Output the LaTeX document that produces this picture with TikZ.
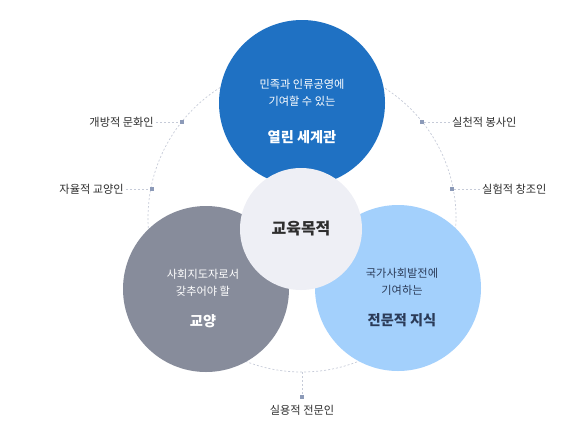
\documentclass[tikz,border=0pt]{standalone}
\usepackage{fontspec}
\setmainfont{Noto Sans CJK KR}
\usetikzlibrary{positioning}

\definecolor{topblue}{HTML}{1F71C3}
\definecolor{slate}{HTML}{878C9B}
\definecolor{skyblue}{HTML}{A3D0FC}
\definecolor{core}{HTML}{EEEFF5}
\definecolor{ringgray}{HTML}{C6CBD8}
\definecolor{markblue}{HTML}{8C9AB8}
\definecolor{ink}{HTML}{2E2E2E}
\definecolor{navyink}{HTML}{2B3B58}

\tikzset{
  area/.style={circle, minimum size=166pt, inner sep=0pt},
  lead/.style={draw=ringgray, dash pattern=on 2pt off 2pt, line width=0.7pt},
  dot/.style={fill=markblue, minimum size=4pt, inner sep=0pt},
  tag/.style={font=\fontsize{11.2}{13}\selectfont, text=ink, inner sep=2pt},
  small/.style={align=center, font=\fontsize{11.2}{17}\selectfont},
  head/.style={font=\fontsize{14.2}{16}\selectfont\bfseries}
}

\begin{document}
\begin{tikzpicture}[x=1pt,y=-1pt]
  \useasboundingbox (0,0) rectangle (580,421);
  % dashed ring
  \coordinate (ringc) at (302,218);
  \draw[lead] (ringc) circle (154pt);
  \coordinate (ringbot) at (302,372);

  % the three areas and the goal in the middle
  \node[area, fill=topblue] (world) at (302,103) {};
  \node[area, fill=slate] (culture) at (206,289) {};
  \node[area, fill=skyblue] (expert) at (398,288) {};
  \node[circle, minimum size=122pt, inner sep=0pt, fill=core] (goal) at (301,229) {};

  \node[small, text=white] at (302,93) {민족과 인류공영에\\기여할 수 있는};
  \node[head, text=white] at (302,137) {열린 세계관};
  \node[small, text=white] at (203,283) {사회지도자로서\\갖추어야 할};
  \node[head, text=white] at (203,321) {교양};
  \node[small, text=navyink] at (402,282) {국가사회발전에\\기여하는};
  \node[head, text=navyink] at (402,320) {전문적 지식};
  \node[font=\fontsize{16}{18}\selectfont\bfseries, text=ink] at (goal) {교육목적};

  % markers on the ring and their labels
  \node[dot] (mk1) at (182,122) {};
  \node[dot] (mk2) at (152,189) {};
  \node[dot] (mk3) at (422,122) {};
  \node[dot] (mk4) at (452,189) {};
  \node[dot] (mk5) at (302,397) {};

  \node[tag, anchor=east] (open) at (156,122) {개방적 문화인};
  \node[tag, anchor=east] (free) at (126,189) {자율적 교양인};
  \node[tag, anchor=west] (serve) at (450,122) {실천적 봉사인};
  \node[tag, anchor=west] (create) at (480,189) {실험적 창조인};
  \node[tag, anchor=north] (pro) at (302,403) {실용적 전문인};

  \draw[lead] (open) -- (mk1);
  \draw[lead] (free) -- (mk2);
  \draw[lead] (mk3) -- (serve);
  \draw[lead] (mk4) -- (create);
  \draw[lead] (ringbot) -- (mk5);
\end{tikzpicture}
\end{document}
